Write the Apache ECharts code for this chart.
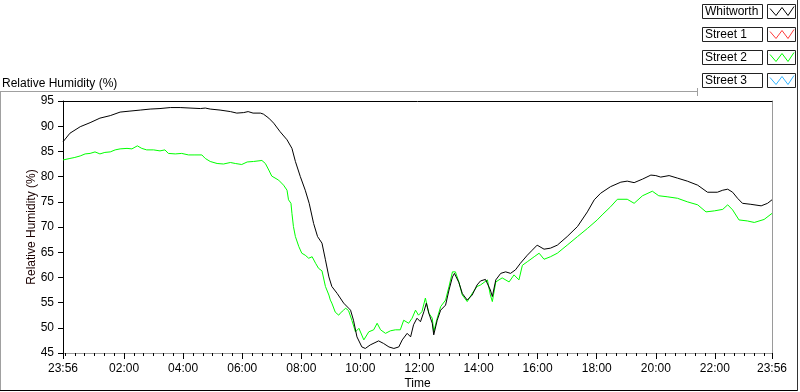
<!DOCTYPE html>
<html>
<head>
<meta charset="utf-8">
<script src="https://cdn.jsdelivr.net/npm/echarts@6/dist/echarts.min.js"></script>
<style>
  html, body { margin: 0; padding: 0; background: #fff; }
  #main { width: 800px; height: 392px; }
</style>
</head>
<body>
<div id="main"></div>
<script>
// time in minutes from midnight (23:56 of the day before = -4)
const seriesNames = ['Whitworth', 'Street 1', 'Street 2', 'Street 3'];
const seriesColors = ['#000000', '#ff3b3b', '#00ff00', '#33b4ff'];

const whitworthMin = [-4, 10, 31, 51, 71, 92, 112, 132, 153, 173, 193, 214, 234, 254, 275, 285, 295, 315, 336, 349, 363, 372, 382, 397,
  403, 414, 424, 437, 451, 461, 468, 478, 488, 496, 505, 513, 522, 529, 536, 542, 553, 566, 576, 580, 586, 593, 603, 610, 620,
  637, 647, 658, 668, 678, 685, 695, 702, 708, 715, 722, 729, 734, 739, 746, 749, 756, 763, 773, 780, 787, 791, 800, 807, 817,
  827, 837, 844, 854, 864, 868, 875, 885, 895, 905, 915, 925, 939, 949, 959, 973, 986, 1000, 1020, 1041, 1061, 1075, 1088,
  1108, 1129, 1142, 1156, 1173, 1190, 1200, 1210, 1227, 1244, 1264, 1285, 1305, 1325, 1336, 1346, 1356, 1366, 1376, 1393,
  1414, 1427, 1436];
const whitworthRH = [86.9, 88.6, 89.9, 90.7, 91.6, 92.1, 92.8, 93.0, 93.2, 93.4, 93.5, 93.7, 93.7, 93.6, 93.5, 93.6, 93.4, 93.2, 92.9, 92.6, 92.7, 92.9, 92.6, 92.6,
  92.4, 91.6, 90.6, 88.9, 87.3, 85.6, 83.0, 80.0, 77.3, 74.7, 70.7, 68.1, 66.8, 63.5, 60.1, 58.2, 56.8, 54.9, 53.9, 53.5, 51.5, 48.2, 46.2, 45.9, 46.6,
  47.4, 46.9, 46.2, 45.9, 46.2, 47.6, 48.9, 48.2, 50.6, 51.9, 51.2, 53.2, 54.9, 52.9, 50.9, 48.6, 51.5, 53.5, 54.5, 57.5, 60.1, 60.8, 59.0, 56.8, 55.5,
  56.5, 58.5, 59.3, 59.6, 57.5, 56.2, 59.5, 60.8, 61.1, 60.8, 61.5, 62.8, 64.4, 65.4, 66.4, 65.6, 65.8, 66.4, 68.1, 70.1, 73.0, 75.4, 76.7,
  78.0, 78.9, 79.1, 78.8, 79.5, 80.3, 80.2, 79.9, 80.2, 79.7, 79.1, 78.3, 76.9, 76.9, 77.3, 77.5, 76.9, 75.7, 74.7, 74.5,
  74.2, 74.7, 75.4];

const street2Min = [-4, 10, 20, 31, 41, 51, 61, 71, 81, 92, 102, 112, 126, 136, 147, 156, 166, 180, 193, 203, 210, 224, 237, 251, 264, 278,
  285, 295, 309, 322, 336, 346, 359, 370, 383, 400, 407, 414, 420, 434, 444, 451, 454, 459, 461, 464, 468, 475, 481, 488, 495, 502,
  509, 515, 522, 529, 536, 539, 542, 549, 556, 559, 566, 570, 576, 583, 590, 597, 607, 617, 627, 634, 641, 651, 661, 671, 681, 688,
  698, 705, 712, 718, 725, 732, 739, 746, 749, 756, 763, 773, 780, 787, 793, 800, 807, 817, 827, 837, 844, 858, 864, 868, 875, 888,
  902, 912, 922, 929, 939, 953, 963, 973, 986, 1000, 1020, 1041, 1061, 1081, 1091, 1108, 1122, 1142, 1156, 1173, 1193, 1206, 1223,
  1244, 1264, 1285, 1302, 1319, 1336, 1346, 1356, 1369, 1386, 1400, 1420, 1436];
const street2RH = [83.3, 83.6, 83.8, 84.1, 84.5, 84.6, 84.9, 84.5, 84.8, 84.9, 85.3, 85.5, 85.6, 85.5, 86.1, 85.6, 85.3, 85.3, 85.1, 85.3, 84.6, 84.5, 84.6, 84.3, 84.3, 84.3,
  83.6, 83.0, 82.6, 82.5, 82.8, 82.6, 82.4, 82.9, 83.0, 83.2, 82.6, 81.3, 80.1, 79.3, 78.3, 77.3, 75.4, 74.7, 72.7, 70.1, 68.1, 66.1, 64.8, 64.4, 63.8, 64.1,
  62.8, 61.8, 61.3, 58.2, 56.5, 55.5, 54.9, 53.1, 52.5, 52.9, 53.5, 53.9, 53.4, 51.4, 49.2, 49.9, 47.6, 49.2, 49.6, 50.9, 49.6, 48.9, 49.4, 49.6, 49.6, 51.5,
  50.9, 51.9, 53.5, 52.5, 53.2, 55.9, 52.9, 51.9, 49.2, 51.9, 54.2, 55.5, 58.2, 61.1, 61.1, 59.1, 56.5, 55.2, 56.8, 58.2, 58.5, 59.5, 56.5, 55.2, 59.1, 59.9,
  59.1, 60.5, 59.5, 62.4, 63.1, 64.1, 64.8, 63.6, 64.1, 64.8, 66.4, 68.1, 69.7, 71.4, 72.4, 74.0, 75.5, 75.5, 74.7, 76.2, 77.1, 76.2, 76.0,
  75.7, 75.0, 74.4, 73.0, 73.2, 73.5, 74.4, 73.4, 71.4, 71.2, 70.9, 71.5, 72.7];

const majorTicks = [-4, 120, 240, 360, 480, 600, 720, 840, 960, 1080, 1200, 1320, 1436];
const minorTicks = [];
for (let m = 0; m < 1436; m += 20) minorTicks.push(m);

const FONT = 'Liberation Sans';

function fmtTime(v) {
    let m = ((Math.round(v) % 1440) + 1440) % 1440;
    let h = Math.floor(m / 60), mm = m % 60;
    return (h < 10 ? '0' : '') + h + ':' + (mm < 10 ? '0' : '') + mm;
}

function zip(xs, ys) {
    return xs.map((x, i) => [x, ys[i]]);
}

// legend drawn as boxes like the original panel
let legendGraphics = [];
seriesNames.forEach((name, i) => {
    let y = 4.5 + i * 23;
    legendGraphics.push({type: 'rect', shape: {x: 702.5, y: y, width: 60, height: 14}, style: {fill: '#fff', stroke: '#222', lineWidth: 1}});
    legendGraphics.push({type: 'text', x: 705, y: y + 7.5, style: {text: name, font: '12px ' + FONT, fill: '#000', verticalAlign: 'middle'}});
    legendGraphics.push({type: 'rect', shape: {x: 767.5, y: y, width: 28, height: 14}, style: {fill: '#fff', stroke: '#222', lineWidth: 1}});
    legendGraphics.push({type: 'polyline', shape: {points: [[770, y + 4], [776, y + 11], [782, y + 3], [788, y + 11], [794, y + 2]]}, style: {stroke: seriesColors[i], lineWidth: 1, fill: null}});
});

const gridBox = {left: 63, right: 28, top: 101, bottom: 39, containLabel: false, outerBoundsMode: 'none'};

let chart = echarts.init(document.getElementById('main'));
let option = {
    animation: false,
    backgroundColor: '#fff',
    textStyle: {fontFamily: FONT},
    title: {
        text: 'Relative Humidity (%)',
        left: 2, top: 78, padding: 0,
        textStyle: {fontSize: 12, fontWeight: 'normal', color: '#000', fontFamily: FONT}
    },
    // second grid on the same box only carries the minor ticks and the grey right edge
    grid: [Object.assign({}, gridBox), Object.assign({}, gridBox)],
    xAxis: [
        {
            gridIndex: 0, type: 'value', min: -4, max: 1436, position: 'bottom',
            name: 'Time', nameLocation: 'middle', nameGap: 25, nameMoveOverlap: false,
            nameTextStyle: {fontSize: 12, color: '#000', fontFamily: FONT},
            axisLine: {onZero: false, lineStyle: {color: '#9a9a9a'}},
            axisTick: {customValues: majorTicks, length: 6, lineStyle: {color: '#000'}},
            axisLabel: {customValues: majorTicks, formatter: fmtTime, fontSize: 12, color: '#000', margin: 10, fontFamily: FONT},
            splitLine: {show: false}
        },
        {
            gridIndex: 0, type: 'value', min: -4, max: 1436, position: 'top',
            axisLine: {onZero: false, lineStyle: {color: '#000'}},
            axisTick: {show: false}, axisLabel: {show: false}, splitLine: {show: false}
        },
        {
            gridIndex: 1, type: 'value', min: -4, max: 1436, position: 'bottom',
            axisLine: {show: false, onZero: false},
            axisTick: {show: true, customValues: minorTicks, length: 3, lineStyle: {color: '#000'}},
            axisLabel: {show: false},
            splitLine: {show: false}
        }
    ],
    yAxis: [
        {
            gridIndex: 0, type: 'value', min: 45, max: 95, interval: 5, position: 'left',
            name: 'Relative Humidity (%)', nameLocation: 'middle', nameGap: 25, nameMoveOverlap: false,
            nameTextStyle: {fontSize: 12, color: '#1a0000', fontFamily: FONT},
            axisLine: {show: true, onZero: false, lineStyle: {color: '#000'}},
            axisTick: {show: true, length: 5, lineStyle: {color: '#000'}},
            axisLabel: {fontSize: 12, color: '#000', margin: 9, fontFamily: FONT},
            splitLine: {show: false}
        },
        {
            gridIndex: 1, type: 'value', min: 45, max: 95, position: 'right',
            axisLine: {show: true, onZero: false, lineStyle: {color: '#9a9a9a'}},
            axisTick: {show: false}, axisLabel: {show: false}, splitLine: {show: false}
        }
    ],
    series: [
        {name: seriesNames[0], type: 'line', data: zip(whitworthMin, whitworthRH), showSymbol: false, symbol: 'none', lineStyle: {color: seriesColors[0], width: 1}, z: 3},
        {name: seriesNames[1], type: 'line', data: [], showSymbol: false, lineStyle: {color: seriesColors[1], width: 1}},
        {name: seriesNames[2], type: 'line', data: zip(street2Min, street2RH), showSymbol: false, symbol: 'none', lineStyle: {color: seriesColors[2], width: 1}, z: 2},
        {name: seriesNames[3], type: 'line', data: [], showSymbol: false, lineStyle: {color: seriesColors[3], width: 1}}
    ],
    graphic: [
        // outer panel frame
        {type: 'line', shape: {x1: 0, y1: 91.5, x2: 698, y2: 91.5}, style: {stroke: '#a0a0a0', lineWidth: 1}},
        {type: 'line', shape: {x1: 0.5, y1: 91.5, x2: 0.5, y2: 390}, style: {stroke: '#a0a0a0', lineWidth: 1}},
        {type: 'line', shape: {x1: 0, y1: 390.5, x2: 798, y2: 390.5}, style: {stroke: '#000', lineWidth: 1}},
        {type: 'line', shape: {x1: 797.5, y1: 0, x2: 797.5, y2: 391}, style: {stroke: '#333', lineWidth: 1}},
        {type: 'line', shape: {x1: 697.5, y1: 88, x2: 697.5, y2: 96}, style: {stroke: '#a0a0a0', lineWidth: 1}}
    ].concat(legendGraphics)
};
chart.setOption(option);
</script>
</body>
</html>
